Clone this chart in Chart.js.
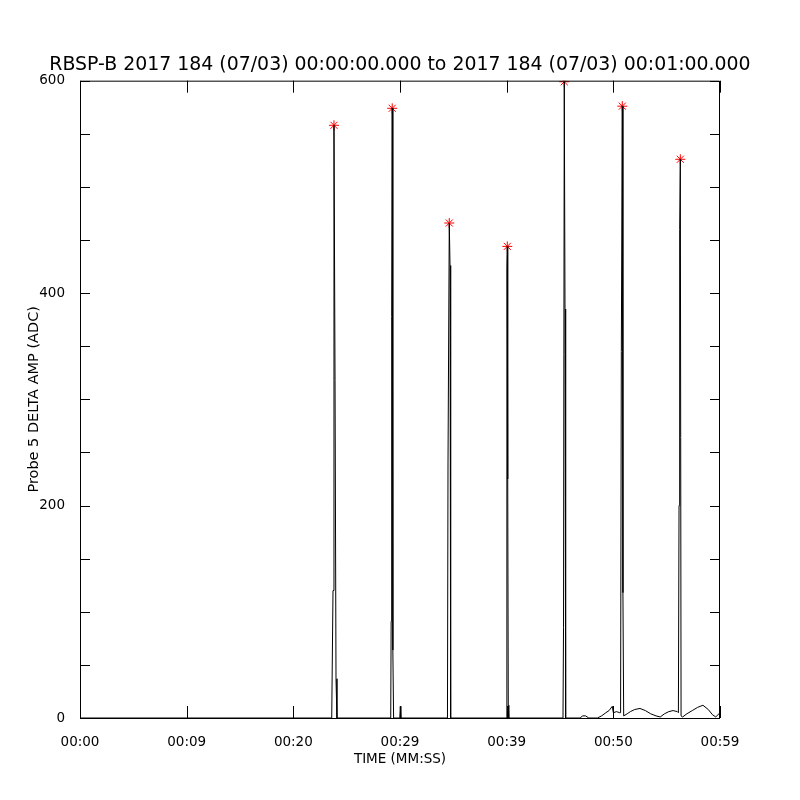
<!DOCTYPE html>
<html>
<head>
<meta charset="utf-8">
<script src="https://cdn.jsdelivr.net/npm/chart.js@4"></script>
<style>
  html, body { margin: 0; padding: 0; background: #fff; }
  #wrap { width: 800px; height: 800px; }
</style>
</head>
<body>
<div id="wrap"><canvas id="plot" width="800" height="800"></canvas></div>
<script>
// ---- data ----
const TITLE = 'RBSP-B 2017 184 (07/03) 00:00:00.000 to 2017 184 (07/03) 00:01:00.000';

// time in seconds from 00:00, amplitude in ADC
const ampTimes = [
  0, 23.6,
  23.72, 23.81, 23.91, 24.0, 24.09,
  29.13, 29.17, 29.22, 29.27, 29.33, 29.4,
  29.98, 30.03, 30.08,
  34.45, 34.5, 34.62, 34.69, 34.75,
  39.97, 40.02, 40.06, 40.1, 40.15, 40.2,
  45.28, 45.33, 45.4, 45.47, 45.53,
  46.9, 47.1, 47.4, 47.7, 48.5, 48.9, 49.3, 49.6, 49.9, 50.0, 50.3, 50.6,
  50.68, 50.75, 50.84, 50.9, 50.97,
  51.3, 51.6, 52.0, 52.5, 53.0, 53.5, 54.0, 54.4, 54.8, 55.2, 55.6, 56.0,
  56.1, 56.16, 56.22, 56.28, 56.35,
  56.5, 56.9, 57.4, 57.9, 58.4, 58.9, 59.3, 59.6, 60
];
const ampValues = [
  0, 0,
  120, 558, 318, 37, 0,
  0, 91, 378, 574, 64, 0,
  0, 11, 0,
  0, 240, 466, 426, 0,
  0, 423, 444, 225, 12, 0,
  0, 85, 599, 385, 0,
  0, 2, 2, 0, 0, 2, 5, 7, 11, 5, 6, 5,
  5, 345, 576, 118, 2,
  4, 6, 8, 9, 7, 4, 2, 1, 4, 6, 7, 6,
  5, 200, 460, 526, 2,
  1, 4, 7, 10, 12, 8, 3, 1, 5
];

// peak markers (red asterisks)
const peakTimes  = [23.81, 29.27, 34.62, 40.06, 45.4, 50.84, 56.28];
const peakValues = [558, 574, 466, 444, 599, 576, 526];

// axes
const xTickValues = [0, 10, 20, 30, 40, 50, 60];
const xTickLabels = ['00:00', '00:09', '00:20', '00:29', '00:39', '00:50', '00:59'];
const yMajorValues = [0, 200, 400, 600];
const yMinorStep = 50;

// ---- inward tick marks + frame, drawn from the scales ----
const idlFrame = {
  id: 'idlFrame',
  afterDraw(chart) {
    const ctx = chart.ctx;
    const a = chart.chartArea;
    const xs = chart.scales.x;
    const ys = chart.scales.y;
    ctx.save();
    ctx.strokeStyle = '#000';
    ctx.lineWidth = 1;
    ctx.beginPath();
    ctx.rect(a.left + 0.5, a.top + 0.5, a.right - a.left - 1, a.bottom - a.top);
    xs.ticks.forEach(function(t) {
      const px = Math.round(xs.getPixelForValue(t.value)) + 0.5;
      ctx.moveTo(px, a.bottom); ctx.lineTo(px, a.bottom - 12);
      ctx.moveTo(px, a.top);    ctx.lineTo(px, a.top + 12);
    });
    ys.ticks.forEach(function(t) {
      const py = Math.round(ys.getPixelForValue(t.value)) + 0.5;
      ctx.moveTo(a.left, py);  ctx.lineTo(a.left + 10, py);
      ctx.moveTo(a.right, py); ctx.lineTo(a.right - 10, py);
    });
    ctx.stroke();
    ctx.restore();
  }
};

const FONT = 'DejaVu Sans';

new Chart(document.getElementById('plot'), {
  type: 'scatter',
  data: {
    datasets: [{
      data: ampTimes.map(function(t, i) { return { x: t, y: ampValues[i] }; }),
      showLine: true,
      borderColor: '#000',
      borderWidth: 1,
      pointRadius: 0,
      tension: 0
    }, {
      data: peakTimes.map(function(t, i) { return { x: t, y: peakValues[i] }; }),
      pointStyle: 'star',
      pointRadius: 5,
      pointBorderWidth: 1,
      borderColor: '#ff0000',
      backgroundColor: '#ff0000',
      clip: 0
    }]
  },
  options: {
    responsive: false,
    animation: false,
    devicePixelRatio: 1,
    plugins: {
      legend: { display: false },
      tooltip: { enabled: false },
      title: {
        display: true,
        text: TITLE,
        color: '#000',
        font: { family: FONT, size: 18.9, weight: 'normal' },
        padding: { top: 54, bottom: 4 }
      }
    },
    scales: {
      x: {
        type: 'linear',
        min: 0,
        max: 60,
        afterFit: function(s) { s.height = 82; },
        afterBuildTicks: function(s) {
          s.ticks = xTickValues.map(function(v) { return { value: v }; });
        },
        grid: { display: false },
        border: { display: false },
        ticks: {
          autoSkip: false,
          maxRotation: 0,
          padding: 8,
          color: '#000',
          font: { family: FONT, size: 13.5 },
          callback: function(v, i) { return xTickLabels[i]; }
        },
        title: {
          display: true,
          text: 'TIME (MM:SS)',
          color: '#000',
          font: { family: FONT, size: 13.5 },
          padding: { top: 0, bottom: 32 }
        }
      },
      y: {
        min: 0,
        max: 600,
        afterFit: function(s) { s.width = 80; },
        grid: { display: false },
        border: { display: false },
        ticks: {
          stepSize: yMinorStep,
          autoSkip: false,
          padding: 7,
          color: '#000',
          font: { family: FONT, size: 13.5 },
          callback: function(v) { return yMajorValues.indexOf(v) >= 0 ? String(v) : ''; }
        },
        title: {
          display: true,
          text: 'Probe 5 DELTA AMP (ADC)',
          color: '#000',
          font: { family: FONT, size: 14.5 },
          padding: { top: 26, bottom: 0 }
        }
      },
      yRight: {
        position: 'right',
        min: 0,
        max: 600,
        afterFit: function(s) { s.width = 80; },
        grid: { display: false },
        border: { display: false },
        ticks: { display: false }
      }
    }
  },
  plugins: [idlFrame]
});
</script>
</body>
</html>
